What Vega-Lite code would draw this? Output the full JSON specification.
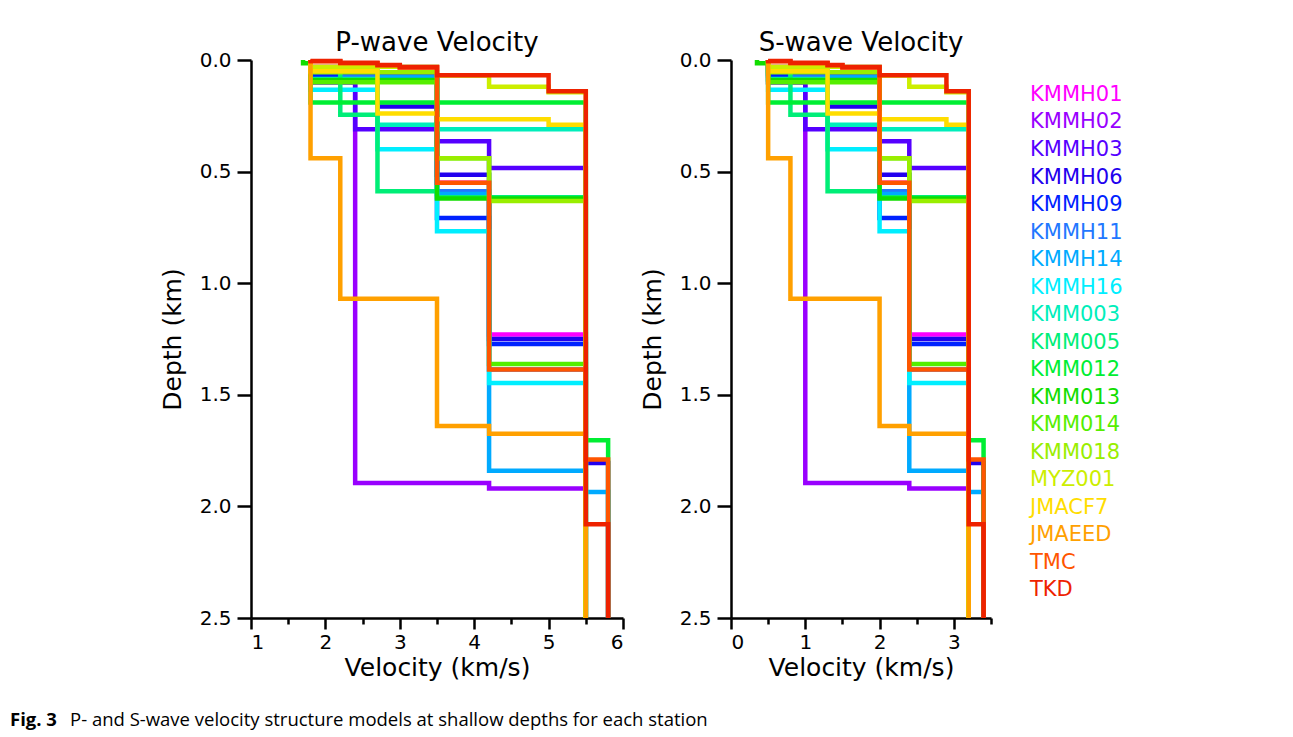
{
  "$schema": "https://vega.github.io/schema/vega-lite/v6.json",
  "background": "white",
  "padding": {"left": 10, "top": 30, "right": 5, "bottom": 5},
  "config": {
    "view": {"stroke": null},
    "font": "DejaVu Sans",
    "axis": {"domainColor": "black", "domainWidth": 2.5, "tickColor": "black", "tickWidth": 2.5, "labelFont": "DejaVu Sans", "labelFontSize": 20, "labelColor": "black", "titleFont": "DejaVu Sans", "titleFontSize": 25, "titleFontWeight": "normal", "titleColor": "black", "grid": false},
    "title": {"font": "DejaVu Sans", "fontSize": 26, "fontWeight": "normal", "color": "black", "offset": -6}
  },
  "datasets": {
    "prof": [
      {"s":"KMMH01","k":0,"vp":1.8,"vs":0.5,"d":0},{"s":"KMMH01","k":1,"vp":1.8,"vs":0.5,"d":0.03},{"s":"KMMH01","k":2,"vp":3.5,"vs":2.0,"d":0.03},{"s":"KMMH01","k":3,"vp":3.5,"vs":2.0,"d":0.55},{"s":"KMMH01","k":4,"vp":4.2,"vs":2.4,"d":0.55},{"s":"KMMH01","k":5,"vp":4.2,"vs":2.4,"d":1.23},{"s":"KMMH01","k":6,"vp":5.5,"vs":3.2,"d":1.23},{"s":"KMMH01","k":7,"vp":5.5,"vs":3.2,"d":2.5},
      {"s":"KMMH02","k":0,"vp":1.8,"vs":0.5,"d":0},{"s":"KMMH02","k":1,"vp":1.8,"vs":0.5,"d":0.1},{"s":"KMMH02","k":2,"vp":2.4,"vs":1.0,"d":0.1},{"s":"KMMH02","k":3,"vp":2.4,"vs":1.0,"d":1.895},{"s":"KMMH02","k":4,"vp":4.2,"vs":2.4,"d":1.895},{"s":"KMMH02","k":5,"vp":4.2,"vs":2.4,"d":1.92},{"s":"KMMH02","k":6,"vp":5.5,"vs":3.2,"d":1.92},{"s":"KMMH02","k":7,"vp":5.5,"vs":3.2,"d":2.5},
      {"s":"KMMH03","k":0,"vp":1.8,"vs":0.5,"d":0},{"s":"KMMH03","k":1,"vp":1.8,"vs":0.5,"d":0.1},{"s":"KMMH03","k":2,"vp":2.4,"vs":1.0,"d":0.1},{"s":"KMMH03","k":3,"vp":2.4,"vs":1.0,"d":0.31},{"s":"KMMH03","k":4,"vp":3.5,"vs":2.0,"d":0.31},{"s":"KMMH03","k":5,"vp":3.5,"vs":2.0,"d":0.364},{"s":"KMMH03","k":6,"vp":4.2,"vs":2.4,"d":0.364},{"s":"KMMH03","k":7,"vp":4.2,"vs":2.4,"d":0.484},{"s":"KMMH03","k":8,"vp":5.5,"vs":3.2,"d":0.484},{"s":"KMMH03","k":9,"vp":5.5,"vs":3.2,"d":2.5},
      {"s":"KMMH06","k":0,"vp":1.8,"vs":0.5,"d":0},{"s":"KMMH06","k":1,"vp":1.8,"vs":0.5,"d":0.06},{"s":"KMMH06","k":2,"vp":2.7,"vs":1.3,"d":0.06},{"s":"KMMH06","k":3,"vp":2.7,"vs":1.3,"d":0.208},{"s":"KMMH06","k":4,"vp":3.5,"vs":2.0,"d":0.208},{"s":"KMMH06","k":5,"vp":3.5,"vs":2.0,"d":0.514},{"s":"KMMH06","k":6,"vp":4.2,"vs":2.4,"d":0.514},{"s":"KMMH06","k":7,"vp":4.2,"vs":2.4,"d":1.25},{"s":"KMMH06","k":8,"vp":5.5,"vs":3.2,"d":1.25},{"s":"KMMH06","k":9,"vp":5.5,"vs":3.2,"d":1.806},{"s":"KMMH06","k":10,"vp":5.8,"vs":3.4,"d":1.806},{"s":"KMMH06","k":11,"vp":5.8,"vs":3.4,"d":2.5},
      {"s":"KMMH09","k":0,"vp":1.8,"vs":0.5,"d":0},{"s":"KMMH09","k":1,"vp":1.8,"vs":0.5,"d":0.07},{"s":"KMMH09","k":2,"vp":3.5,"vs":2.0,"d":0.07},{"s":"KMMH09","k":3,"vp":3.5,"vs":2.0,"d":0.708},{"s":"KMMH09","k":4,"vp":4.2,"vs":2.4,"d":0.708},{"s":"KMMH09","k":5,"vp":4.2,"vs":2.4,"d":1.272},{"s":"KMMH09","k":6,"vp":5.5,"vs":3.2,"d":1.272},{"s":"KMMH09","k":7,"vp":5.5,"vs":3.2,"d":2.5},
      {"s":"KMMH11","k":0,"vp":1.8,"vs":0.5,"d":0},{"s":"KMMH11","k":1,"vp":1.8,"vs":0.5,"d":0.043},{"s":"KMMH11","k":2,"vp":2.2,"vs":0.8,"d":0.043},{"s":"KMMH11","k":3,"vp":2.2,"vs":0.8,"d":0.075},{"s":"KMMH11","k":4,"vp":3.5,"vs":2.0,"d":0.075},{"s":"KMMH11","k":5,"vp":3.5,"vs":2.0,"d":0.588},{"s":"KMMH11","k":6,"vp":4.2,"vs":2.4,"d":0.588},{"s":"KMMH11","k":7,"vp":4.2,"vs":2.4,"d":1.387},{"s":"KMMH11","k":8,"vp":5.5,"vs":3.2,"d":1.387},{"s":"KMMH11","k":9,"vp":5.5,"vs":3.2,"d":2.5},
      {"s":"KMMH14","k":0,"vp":1.8,"vs":0.5,"d":0},{"s":"KMMH14","k":1,"vp":1.8,"vs":0.5,"d":0.05},{"s":"KMMH14","k":2,"vp":2.7,"vs":1.3,"d":0.05},{"s":"KMMH14","k":3,"vp":2.7,"vs":1.3,"d":0.078},{"s":"KMMH14","k":4,"vp":3.5,"vs":2.0,"d":0.078},{"s":"KMMH14","k":5,"vp":3.5,"vs":2.0,"d":0.6},{"s":"KMMH14","k":6,"vp":4.2,"vs":2.4,"d":0.6},{"s":"KMMH14","k":7,"vp":4.2,"vs":2.4,"d":1.84},{"s":"KMMH14","k":8,"vp":5.5,"vs":3.2,"d":1.84},{"s":"KMMH14","k":9,"vp":5.5,"vs":3.2,"d":1.935},{"s":"KMMH14","k":10,"vp":5.8,"vs":3.4,"d":1.935},{"s":"KMMH14","k":11,"vp":5.8,"vs":3.4,"d":2.5},
      {"s":"KMMH16","k":0,"vp":1.8,"vs":0.5,"d":0},{"s":"KMMH16","k":1,"vp":1.8,"vs":0.5,"d":0.133},{"s":"KMMH16","k":2,"vp":2.7,"vs":1.3,"d":0.133},{"s":"KMMH16","k":3,"vp":2.7,"vs":1.3,"d":0.4},{"s":"KMMH16","k":4,"vp":3.5,"vs":2.0,"d":0.4},{"s":"KMMH16","k":5,"vp":3.5,"vs":2.0,"d":0.767},{"s":"KMMH16","k":6,"vp":4.2,"vs":2.4,"d":0.767},{"s":"KMMH16","k":7,"vp":4.2,"vs":2.4,"d":1.447},{"s":"KMMH16","k":8,"vp":5.5,"vs":3.2,"d":1.447},{"s":"KMMH16","k":9,"vp":5.5,"vs":3.2,"d":2.5},
      {"s":"KMM003","k":0,"vp":1.8,"vs":0.5,"d":0},{"s":"KMM003","k":1,"vp":1.8,"vs":0.5,"d":0.085},{"s":"KMM003","k":2,"vp":2.7,"vs":1.3,"d":0.085},{"s":"KMM003","k":3,"vp":2.7,"vs":1.3,"d":0.29},{"s":"KMM003","k":4,"vp":3.5,"vs":2.0,"d":0.29},{"s":"KMM003","k":5,"vp":3.5,"vs":2.0,"d":0.31},{"s":"KMM003","k":6,"vp":5.5,"vs":3.2,"d":0.31},{"s":"KMM003","k":7,"vp":5.5,"vs":3.2,"d":2.5},
      {"s":"KMM005","k":0,"vp":1.8,"vs":0.5,"d":0},{"s":"KMM005","k":1,"vp":1.8,"vs":0.5,"d":0.05},{"s":"KMM005","k":2,"vp":2.2,"vs":0.8,"d":0.05},{"s":"KMM005","k":3,"vp":2.2,"vs":0.8,"d":0.245},{"s":"KMM005","k":4,"vp":2.7,"vs":1.3,"d":0.245},{"s":"KMM005","k":5,"vp":2.7,"vs":1.3,"d":0.588},{"s":"KMM005","k":6,"vp":3.5,"vs":2.0,"d":0.588},{"s":"KMM005","k":7,"vp":3.5,"vs":2.0,"d":0.615},{"s":"KMM005","k":8,"vp":5.5,"vs":3.2,"d":0.615},{"s":"KMM005","k":9,"vp":5.5,"vs":3.2,"d":2.5},
      {"s":"KMM012","k":0,"vp":1.8,"vs":0.5,"d":0},{"s":"KMM012","k":1,"vp":1.8,"vs":0.5,"d":0.19},{"s":"KMM012","k":2,"vp":5.5,"vs":3.2,"d":0.19},{"s":"KMM012","k":3,"vp":5.5,"vs":3.2,"d":1.704},{"s":"KMM012","k":4,"vp":5.8,"vs":3.4,"d":1.704},{"s":"KMM012","k":5,"vp":5.8,"vs":3.4,"d":2.5},
      {"s":"KMM013","k":0,"vp":1.7,"vs":0.35,"d":0},{"s":"KMM013","k":1,"vp":1.7,"vs":0.35,"d":0.015},{"s":"KMM013","k":2,"vp":1.8,"vs":0.5,"d":0.015},{"s":"KMM013","k":3,"vp":1.8,"vs":0.5,"d":0.09},{"s":"KMM013","k":4,"vp":3.5,"vs":2.0,"d":0.09},{"s":"KMM013","k":5,"vp":3.5,"vs":2.0,"d":0.62},{"s":"KMM013","k":6,"vp":5.5,"vs":3.2,"d":0.62},{"s":"KMM013","k":7,"vp":5.5,"vs":3.2,"d":2.5},
      {"s":"KMM014","k":0,"vp":1.8,"vs":0.5,"d":0},{"s":"KMM014","k":1,"vp":1.8,"vs":0.5,"d":0.1},{"s":"KMM014","k":2,"vp":3.5,"vs":2.0,"d":0.1},{"s":"KMM014","k":3,"vp":3.5,"vs":2.0,"d":0.44},{"s":"KMM014","k":4,"vp":4.2,"vs":2.4,"d":0.44},{"s":"KMM014","k":5,"vp":4.2,"vs":2.4,"d":1.362},{"s":"KMM014","k":6,"vp":5.5,"vs":3.2,"d":1.362},{"s":"KMM014","k":7,"vp":5.5,"vs":3.2,"d":2.5},
      {"s":"KMM018","k":0,"vp":1.8,"vs":0.5,"d":0},{"s":"KMM018","k":1,"vp":1.8,"vs":0.5,"d":0.055},{"s":"KMM018","k":2,"vp":3.5,"vs":2.0,"d":0.055},{"s":"KMM018","k":3,"vp":3.5,"vs":2.0,"d":0.44},{"s":"KMM018","k":4,"vp":4.2,"vs":2.4,"d":0.44},{"s":"KMM018","k":5,"vp":4.2,"vs":2.4,"d":0.632},{"s":"KMM018","k":6,"vp":5.5,"vs":3.2,"d":0.632},{"s":"KMM018","k":7,"vp":5.5,"vs":3.2,"d":2.5},
      {"s":"MYZ001","k":0,"vp":1.8,"vs":0.5,"d":0},{"s":"MYZ001","k":1,"vp":1.8,"vs":0.5,"d":0.03},{"s":"MYZ001","k":2,"vp":3.5,"vs":2.0,"d":0.03},{"s":"MYZ001","k":3,"vp":3.5,"vs":2.0,"d":0.07},{"s":"MYZ001","k":4,"vp":4.2,"vs":2.4,"d":0.07},{"s":"MYZ001","k":5,"vp":4.2,"vs":2.4,"d":0.12},{"s":"MYZ001","k":6,"vp":5.0,"vs":2.9,"d":0.12},{"s":"MYZ001","k":7,"vp":5.0,"vs":2.9,"d":0.145},{"s":"MYZ001","k":8,"vp":5.5,"vs":3.2,"d":0.145},{"s":"MYZ001","k":9,"vp":5.5,"vs":3.2,"d":2.5},
      {"s":"JMACF7","k":0,"vp":1.8,"vs":0.5,"d":0},{"s":"JMACF7","k":1,"vp":1.8,"vs":0.5,"d":0.05},{"s":"JMACF7","k":2,"vp":2.7,"vs":1.3,"d":0.05},{"s":"JMACF7","k":3,"vp":2.7,"vs":1.3,"d":0.24},{"s":"JMACF7","k":4,"vp":3.5,"vs":2.0,"d":0.24},{"s":"JMACF7","k":5,"vp":3.5,"vs":2.0,"d":0.265},{"s":"JMACF7","k":6,"vp":5.0,"vs":2.9,"d":0.265},{"s":"JMACF7","k":7,"vp":5.0,"vs":2.9,"d":0.29},{"s":"JMACF7","k":8,"vp":5.5,"vs":3.2,"d":0.29},{"s":"JMACF7","k":9,"vp":5.5,"vs":3.2,"d":2.5},
      {"s":"JMAEED","k":0,"vp":1.8,"vs":0.5,"d":0},{"s":"JMAEED","k":1,"vp":1.8,"vs":0.5,"d":0.44},{"s":"JMAEED","k":2,"vp":2.2,"vs":0.8,"d":0.44},{"s":"JMAEED","k":3,"vp":2.2,"vs":0.8,"d":1.07},{"s":"JMAEED","k":4,"vp":3.5,"vs":2.0,"d":1.07},{"s":"JMAEED","k":5,"vp":3.5,"vs":2.0,"d":1.64},{"s":"JMAEED","k":6,"vp":4.2,"vs":2.4,"d":1.64},{"s":"JMAEED","k":7,"vp":4.2,"vs":2.4,"d":1.675},{"s":"JMAEED","k":8,"vp":5.5,"vs":3.2,"d":1.675},{"s":"JMAEED","k":9,"vp":5.5,"vs":3.2,"d":2.5},
      {"s":"TMC","k":0,"vp":1.8,"vs":0.5,"d":0},{"s":"TMC","k":1,"vp":1.8,"vs":0.5,"d":0.006},{"s":"TMC","k":2,"vp":2.2,"vs":0.8,"d":0.006},{"s":"TMC","k":3,"vp":2.2,"vs":0.8,"d":0.014},{"s":"TMC","k":4,"vp":2.7,"vs":1.3,"d":0.014},{"s":"TMC","k":5,"vp":2.7,"vs":1.3,"d":0.024},{"s":"TMC","k":6,"vp":3.0,"vs":1.5,"d":0.024},{"s":"TMC","k":7,"vp":3.0,"vs":1.5,"d":0.034},{"s":"TMC","k":8,"vp":3.5,"vs":2.0,"d":0.034},{"s":"TMC","k":9,"vp":3.5,"vs":2.0,"d":0.55},{"s":"TMC","k":10,"vp":4.2,"vs":2.4,"d":0.55},{"s":"TMC","k":11,"vp":4.2,"vs":2.4,"d":1.387},{"s":"TMC","k":12,"vp":5.5,"vs":3.2,"d":1.387},{"s":"TMC","k":13,"vp":5.5,"vs":3.2,"d":1.79},{"s":"TMC","k":14,"vp":5.8,"vs":3.4,"d":1.79},{"s":"TMC","k":15,"vp":5.8,"vs":3.4,"d":2.5},
      {"s":"TKD","k":0,"vp":1.8,"vs":0.5,"d":0},{"s":"TKD","k":1,"vp":1.8,"vs":0.5,"d":0.005},{"s":"TKD","k":2,"vp":2.2,"vs":0.8,"d":0.005},{"s":"TKD","k":3,"vp":2.2,"vs":0.8,"d":0.012},{"s":"TKD","k":4,"vp":2.7,"vs":1.3,"d":0.012},{"s":"TKD","k":5,"vp":2.7,"vs":1.3,"d":0.022},{"s":"TKD","k":6,"vp":3.0,"vs":1.5,"d":0.022},{"s":"TKD","k":7,"vp":3.0,"vs":1.5,"d":0.032},{"s":"TKD","k":8,"vp":3.5,"vs":2.0,"d":0.032},{"s":"TKD","k":9,"vp":3.5,"vs":2.0,"d":0.068},{"s":"TKD","k":10,"vp":5.0,"vs":2.9,"d":0.068},{"s":"TKD","k":11,"vp":5.0,"vs":2.9,"d":0.14},{"s":"TKD","k":12,"vp":5.5,"vs":3.2,"d":0.14},{"s":"TKD","k":13,"vp":5.5,"vs":3.2,"d":2.08},{"s":"TKD","k":14,"vp":5.8,"vs":3.4,"d":2.08},{"s":"TKD","k":15,"vp":5.8,"vs":3.4,"d":2.5}
    ],
    "names": [
      {"s":"KMMH01","i":0},{"s":"KMMH02","i":1},{"s":"KMMH03","i":2},{"s":"KMMH06","i":3},{"s":"KMMH09","i":4},{"s":"KMMH11","i":5},{"s":"KMMH14","i":6},{"s":"KMMH16","i":7},{"s":"KMM003","i":8},{"s":"KMM005","i":9},{"s":"KMM012","i":10},{"s":"KMM013","i":11},{"s":"KMM014","i":12},{"s":"KMM018","i":13},{"s":"MYZ001","i":14},{"s":"JMACF7","i":15},{"s":"JMAEED","i":16},{"s":"TMC","i":17},{"s":"TKD","i":18}
    ]
  },
  "vconcat": [
    {
      "hconcat": [
        {
          "title": "P-wave Velocity",
          "width": 372, "height": 558,
          "data": {"name": "prof"},
          "mark": {"type": "line", "strokeWidth": 4.5, "strokeJoin": "miter"},
          "encoding": {
            "x": {"field": "vp", "type": "quantitative", "scale": {"domain": [1, 6], "nice": false, "zero": false},
                  "axis": {"title": "Velocity (km/s)", "values": [1,1.5,2,2.5,3,3.5,4,4.5,5,5.5,6], "labelExpr": "datum.value % 1 === 0 ? format(datum.value, 'd') : ''", "tickSize": {"condition": {"test": "datum.value % 1 === 0", "value": 11}, "value": 6}, "labelPadding": 3, "titlePadding": 3}},
            "y": {"field": "d", "type": "quantitative", "scale": {"domain": [0, 2.5], "reverse": true, "nice": false},
                  "axis": {"title": "Depth (km)", "values": [0,0.5,1,1.5,2,2.5], "format": ".1f", "tickSize": 14, "labelPadding": 6, "titlePadding": 14}},
            "color": {"field": "s", "type": "nominal", "legend": null,
                      "scale": {"domain": ["KMMH01","KMMH02","KMMH03","KMMH06","KMMH09","KMMH11","KMMH14","KMMH16","KMM003","KMM005","KMM012","KMM013","KMM014","KMM018","MYZ001","JMACF7","JMAEED","TMC","TKD"],
                                "range": ["#ff00ff","#9900ff","#5500ff","#2200ee","#0022ff","#2277ff","#00aaff","#00eeff","#00eebb","#00ee77","#00ee33","#11dd00","#55ee00","#99ee00","#ccee00","#ffdd00","#ffa000","#ff5500","#ee2200"]}},
            "order": {"field": "k", "type": "quantitative"}
          }
        },
        {
          "title": "S-wave Velocity",
          "width": 260, "height": 558,
          "data": {"name": "prof"},
          "mark": {"type": "line", "strokeWidth": 4.5, "strokeJoin": "miter"},
          "encoding": {
            "x": {"field": "vs", "type": "quantitative", "scale": {"domain": [0, 3.5], "nice": false, "zero": false},
                  "axis": {"title": "Velocity (km/s)", "values": [0,0.5,1,1.5,2,2.5,3,3.5], "labelExpr": "datum.value % 1 === 0 ? format(datum.value, 'd') : ''", "tickSize": {"condition": {"test": "datum.value % 1 === 0", "value": 11}, "value": 6}, "labelPadding": 3, "titlePadding": 3}},
            "y": {"field": "d", "type": "quantitative", "scale": {"domain": [0, 2.5], "reverse": true, "nice": false},
                  "axis": {"title": "Depth (km)", "values": [0,0.5,1,1.5,2,2.5], "format": ".1f", "tickSize": 14, "labelPadding": 6, "titlePadding": 14}},
            "color": {"field": "s", "type": "nominal", "legend": null,
                      "scale": {"domain": ["KMMH01","KMMH02","KMMH03","KMMH06","KMMH09","KMMH11","KMMH14","KMMH16","KMM003","KMM005","KMM012","KMM013","KMM014","KMM018","MYZ001","JMACF7","JMAEED","TMC","TKD"],
                                "range": ["#ff00ff","#9900ff","#5500ff","#2200ee","#0022ff","#2277ff","#00aaff","#00eeff","#00eebb","#00ee77","#00ee33","#11dd00","#55ee00","#99ee00","#ccee00","#ffdd00","#ffa000","#ff5500","#ee2200"]}},
            "order": {"field": "k", "type": "quantitative"}
          }
        },
        {
          "title": " ",
          "width": 100, "height": 558,
          "data": {"name": "names"},
          "mark": {"type": "text", "align": "left", "baseline": "middle", "fontSize": 21, "font": "DejaVu Sans"},
          "encoding": {
            "x": {"value": 22},
            "y": {"field": "i", "type": "quantitative", "scale": {"domain": [-1.2727, 19.018], "reverse": true, "nice": false, "zero": false}, "axis": null},
            "text": {"field": "s", "type": "nominal"},
            "color": {"field": "s", "type": "nominal", "legend": null,
                      "scale": {"domain": ["KMMH01","KMMH02","KMMH03","KMMH06","KMMH09","KMMH11","KMMH14","KMMH16","KMM003","KMM005","KMM012","KMM013","KMM014","KMM018","MYZ001","JMACF7","JMAEED","TMC","TKD"],
                                "range": ["#ff00ff","#9900ff","#5500ff","#2200ee","#0022ff","#2277ff","#00aaff","#00eeff","#00eebb","#00ee77","#00ee33","#11dd00","#55ee00","#99ee00","#ccee00","#ffdd00","#ffa000","#ff5500","#ee2200"]}}
          }
        }
      ],
      "spacing": 15
    },
    {
      "width": 100, "height": 1,
      "data": {"values": [{}]},
      "layer": [
        {"mark": {"type": "text", "text": "Fig. 3", "fontWeight": "bold", "font": "Open Sans", "fontSize": 18.5, "align": "left", "baseline": "middle", "x": -241, "y": 0, "color": "black"}, "encoding": {}},
        {"mark": {"type": "text", "text": "P- and S-wave velocity structure models at shallow depths for each station", "font": "Open Sans", "fontSize": 18.5, "align": "left", "baseline": "middle", "x": -181, "y": 0, "color": "black"}, "encoding": {}}
      ]
    }
  ],
  "spacing": 31
}
